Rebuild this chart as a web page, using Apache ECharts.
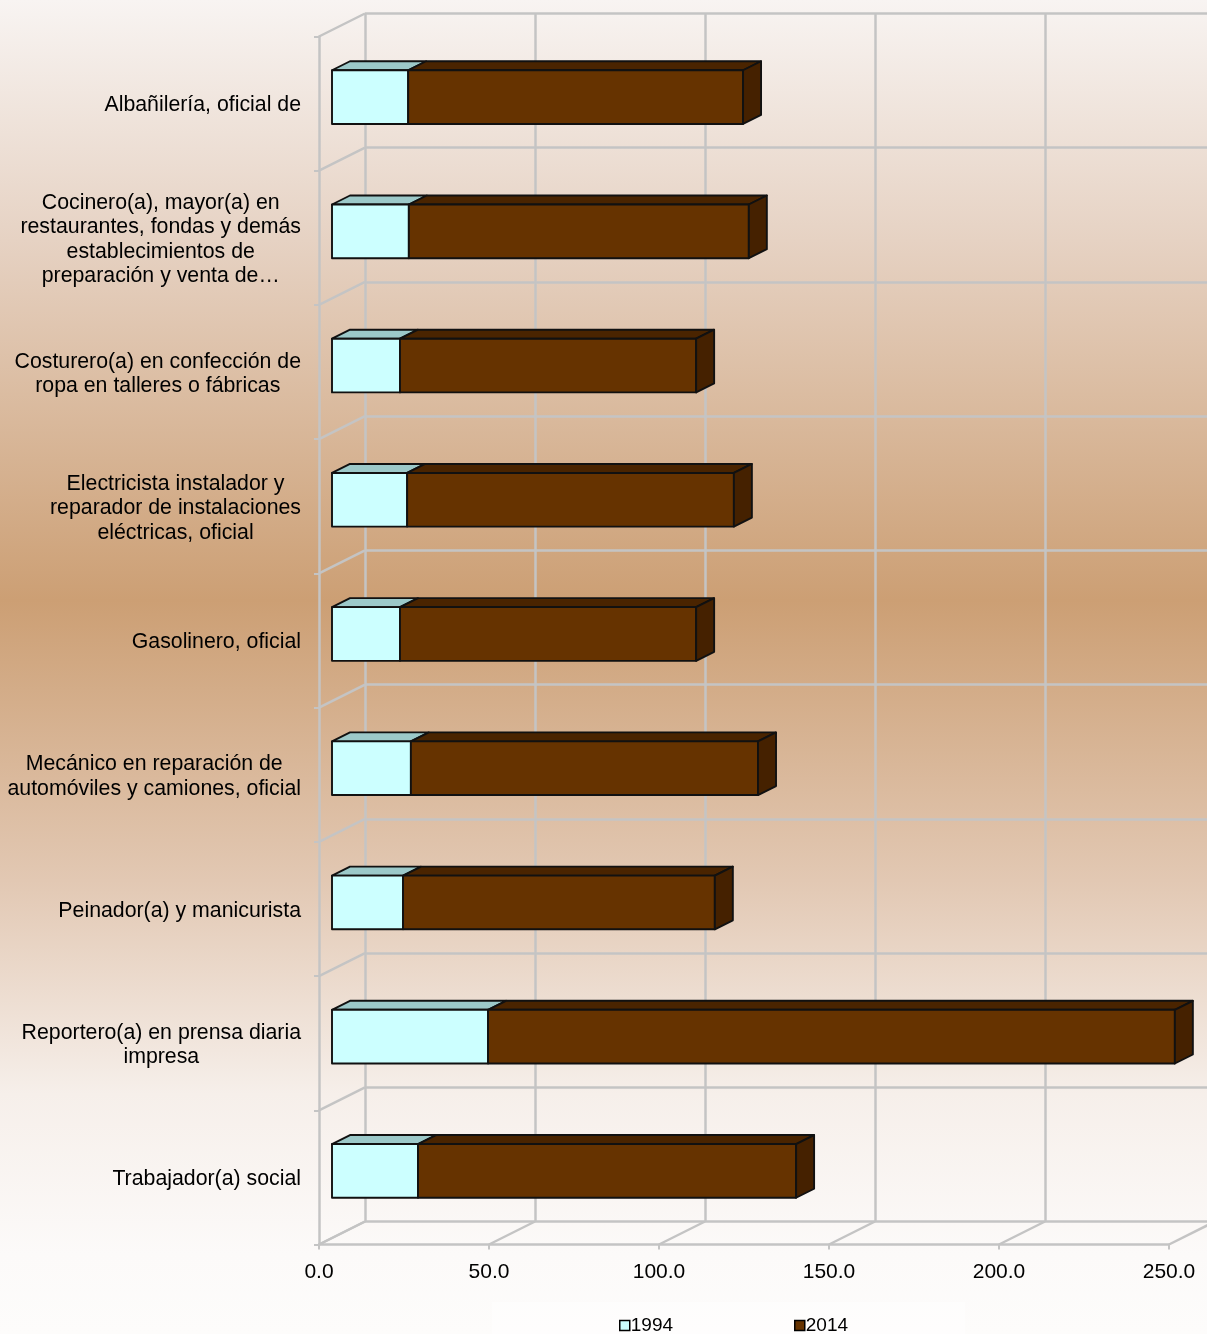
<!DOCTYPE html>
<html><head><meta charset="utf-8">
<script src="https://cdn.jsdelivr.net/npm/echarts@6/dist/echarts.min.js"></script>
<style>
html,body{margin:0;padding:0;}
#c{width:1207px;height:1334px;background:linear-gradient(to bottom,#f8f4f2 0%,#e6d2c3 18%,#cc9f74 45%,#e2c8b3 66%,#f6efea 82%,#fcfaf9 94%,#fdfcfb 100%);}
</style>
</head><body><div id="c"></div>
<script>
const categories = [
  "Albañilería, oficial de",
  "Cocinero(a), mayor(a) en\nrestaurantes, fondas y demás\nestablecimientos de\npreparación y venta de…",
  "Costurero(a) en confección de\nropa en talleres o fábricas",
  "Electricista instalador y\nreparador de instalaciones\neléctricas, oficial",
  "Gasolinero, oficial",
  "Mecánico en reparación de\nautomóviles y camiones, oficial",
  "Peinador(a) y manicurista",
  "Reportero(a) en prensa diaria\nimpresa",
  "Trabajador(a) social"
];
const seriesNames = ["1994", "2014"];
const values1994 = [22.4, 22.6, 20.0, 22.1, 20.0, 23.2, 20.9, 45.9, 25.3];
const values2014 = [98.5, 100.0, 87.1, 96.1, 87.1, 102.1, 91.7, 202.0, 111.2];
const xTicks = [0, 50, 100, 150, 200, 250];

const FONT = "'Liberation Sans', Arial, sans-serif";
const GRID = {left: 332, top: 30, width: 850, height: 1208};
const FRONT = [-13, 6.5];
const BACK = [33, -16.5];
const DEPTH = [18, -9];
const LINE = '#c4c4c4';

const chart = echarts.init(document.getElementById('c'), null, {renderer: 'canvas'});

function makeBarRender(front, top, side, withSide) {
  return function (params, api) {
    const s = api.value(0), e = api.value(1), cat = api.value(2);
    const p0 = api.coord([s, cat]);
    const p1 = api.coord([e, cat]);
    const bh = api.size([0, 1])[1] * 0.40;
    const y0 = p0[1] - bh / 2, y1 = p0[1] + bh / 2;
    const x0 = p0[0], x1 = p1[0];
    const dx = DEPTH[0], dy = DEPTH[1];
    const st = {stroke: '#111', lineWidth: 1.9, lineJoin: 'round'};
    const children = [
      {type: 'polygon', shape: {points: [[x0, y0], [x1, y0], [x1 + dx, y0 + dy], [x0 + dx, y0 + dy]]},
        style: Object.assign({fill: top}, st)},
      {type: 'rect', shape: {x: x0, y: y0, width: x1 - x0, height: y1 - y0},
        style: Object.assign({fill: front}, st)}
    ];
    if (withSide) {
      children.push({type: 'polygon', shape: {points: [[x1, y0], [x1 + dx, y0 + dy], [x1 + dx, y1 + dy], [x1, y1]]},
        style: Object.assign({fill: side}, st)});
    }
    return {type: 'group', children: children};
  };
}

function wallRender(params, api) {
  if (params.dataIndex !== 0) return null;
  const cs = params.coordSys;
  const children = [];
  const ls = {stroke: LINE, lineWidth: 2.5};
  const yb = cs.y + cs.height;
  xTicks.forEach(function (v) {
    const x = api.coord([v, 0])[0];
    children.push({type: 'line', shape: {x1: x + FRONT[0], y1: yb + FRONT[1], x2: x + BACK[0], y2: yb + BACK[1]}, style: ls});
  });
  for (let k = 0; k <= categories.length; k++) {
    const y = cs.y + k * cs.height / categories.length;
    children.push({type: 'line', shape: {x1: cs.x + FRONT[0], y1: y + FRONT[1], x2: cs.x + BACK[0], y2: y + BACK[1]}, style: ls});
  }
  return {type: 'group', children: children};
}

const data1994 = categories.map((c, i) => [0, values1994[i], i]);
const data2014 = categories.map((c, i) => [values1994[i], values1994[i] + values2014[i], i]);

const hidden = {axisLine: {show: false}, axisTick: {show: false}, axisLabel: {show: false}, splitLine: {show: false}};

const option = {
  backgroundColor: 'transparent',
  animation: false,
  textStyle: {fontFamily: FONT},
  graphic: [{type: 'rect', left: 492, top: 1302, shape: {width: 473, height: 32}, style: {fill: 'rgba(255,255,255,0.45)'}, z: -1, silent: true}],
  grid: [
    Object.assign({containLabel: false, outerBoundsMode: 'none'}, GRID),
    {containLabel: false, outerBoundsMode: 'none', left: GRID.left + BACK[0], top: GRID.top + BACK[1], width: GRID.width, height: GRID.height},
    {containLabel: false, outerBoundsMode: 'none', left: GRID.left + FRONT[0], top: GRID.top + FRONT[1], width: GRID.width, height: GRID.height}
  ],
  xAxis: [
    Object.assign({type: 'value', gridIndex: 0, min: 0, max: 250, interval: 50}, hidden),
    Object.assign({type: 'value', gridIndex: 1, min: 0, max: 250, interval: 50}, hidden,
      {splitLine: {show: true, lineStyle: {color: LINE, width: 2.5}}}),
    {type: 'value', gridIndex: 2, min: 0, max: 250, interval: 50,
      axisLine: {show: true, lineStyle: {color: LINE, width: 2.5}},
      axisTick: {show: true, length: 5, lineStyle: {color: LINE, width: 2}},
      axisLabel: {show: true, formatter: v => v.toFixed(1), fontSize: 21, color: '#000', margin: 17, fontFamily: FONT},
      splitLine: {show: false}}
  ],
  yAxis: [
    Object.assign({type: 'category', gridIndex: 0, data: categories, inverse: true}, hidden),
    Object.assign({type: 'value', gridIndex: 1, min: 0, max: categories.length, interval: 1}, hidden,
      {splitLine: {show: true, lineStyle: {color: LINE, width: 2.5}}}),
    {type: 'category', gridIndex: 2, data: categories, inverse: true,
      axisLine: {show: true, lineStyle: {color: LINE, width: 2.5}},
      axisTick: {show: true, length: 5, lineStyle: {color: LINE, width: 2}},
      splitLine: {show: false},
      axisLabel: {show: true, margin: 18, align: 'right', interval: 0, padding: [4, 0, 0, 0],
        formatter: v => v.split('\n').map(l => '{c|' + l + '}').join('\n'),
        rich: {c: {align: 'center', fontSize: 21.3, lineHeight: 24.5, color: '#000', fontFamily: FONT}}}}
  ],
  legend: {
    left: 614, top: 1311, itemWidth: 10, itemHeight: 10, itemGap: 121,
    textStyle: {fontSize: 19, color: '#000', fontFamily: FONT, padding: [0, 0, 0, -4]},
    data: [
      {name: seriesNames[0], icon: 'rect', itemStyle: {color: '#ccffff', borderColor: '#000', borderWidth: 1.5}},
      {name: seriesNames[1], icon: 'rect', itemStyle: {color: '#663300', borderColor: '#000', borderWidth: 1.5}}
    ]
  },
  series: [
    {type: 'custom', name: 'walls', xAxisIndex: 0, yAxisIndex: 0, renderItem: wallRender,
      data: [[0, 0, 0]], encode: {x: 0, y: 2}, z: 1, silent: true, clip: false},
    {type: 'custom', name: seriesNames[0], xAxisIndex: 0, yAxisIndex: 0,
      renderItem: makeBarRender('#ccffff', '#9cc9c9', '#7fb0b0', false),
      itemStyle: {color: '#ccffff', borderColor: '#000', borderWidth: 1.5},
      data: data1994, encode: {x: [0, 1], y: 2}, z: 3, clip: false},
    {type: 'custom', name: seriesNames[1], xAxisIndex: 0, yAxisIndex: 0,
      renderItem: makeBarRender('#663300', '#4a2400', '#452100', true),
      itemStyle: {color: '#663300', borderColor: '#000', borderWidth: 1.5},
      data: data2014, encode: {x: [0, 1], y: 2}, z: 3, clip: false}
  ]
};
chart.setOption(option);
</script>
</body></html>
